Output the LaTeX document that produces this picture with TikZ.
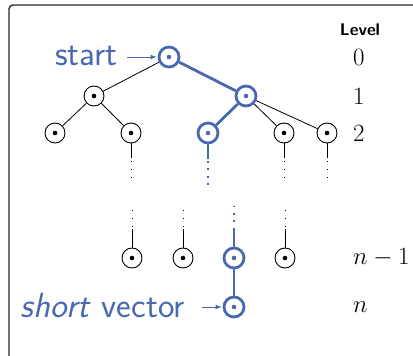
\documentclass[tikz,border=0pt]{standalone}
\usetikzlibrary{arrows.meta}
\definecolor{vblue}{RGB}{72,104,176}
\tikzset{
  vert/.style={circle,draw=black,line width=0.9pt,minimum size=20pt,inner sep=0pt,
    path picture={\fill[black] (path picture bounding box.center) circle (2.3pt);}},
  bvert/.style={circle,draw=vblue,line width=2.8pt,minimum size=20pt,inner sep=0pt,
    path picture={\fill[vblue] (path picture bounding box.center) circle (2.3pt);}},
  tedge/.style={line width=0.8pt,black},
  bedge/.style={line width=2.8pt,vblue},
  tdots/.style={line width=1pt,black,dash pattern=on 1pt off 7pt},
  bdots/.style={line width=2.6pt,vblue,dash pattern=on 2pt off 5.5pt},
  lvl/.style={anchor=west,inner sep=0pt,font=\fontsize{25}{25}\selectfont},
  bluetxt/.style={text=vblue,inner sep=0pt,font=\fontsize{35}{35}\selectfont\sffamily},
  ptr/.style={line width=0.9pt,vblue,-{Latex[length=6pt,width=5pt]}},
}
\begin{document}
\begin{tikzpicture}[x=1pt,y=-1pt]
\useasboundingbox (0,0) rectangle (413,356);
\begin{scope}
\clip (0,0) rectangle (413,356);
\draw[line width=1.4pt,black!85,rounded corners=4pt] (9,5) rectangle (470,420);
\end{scope}

% vertices
\node[bvert] (r) at (169,57) {};
\node[vert] (a1) at (94,96) {};
\node[bvert] (b1) at (246,96) {};
\node[vert] (a2) at (55,133) {};
\node[vert] (b2) at (131,133) {};
\node[bvert] (c2) at (208,133) {};
\node[vert] (d2) at (284,133) {};
\node[vert] (e2) at (327,133) {};
\node[vert] (a3) at (132,258) {};
\node[vert] (b3) at (183,258) {};
\node[bvert] (c3) at (234,258) {};
\node[vert] (d3) at (285,258) {};
\node[bvert] (n) at (234,307) {};

% tree edges
\draw[tedge] (r) -- (a1);
\draw[tedge] (a1) -- (a2);
\draw[tedge] (a1) -- (b2);
\draw[tedge] (b1) -- (d2);
\draw[tedge] (b1) -- (e2);
\draw[bedge] (r) -- (b1);
\draw[bedge] (b1) -- (c2);
\draw[bedge] (c3) -- (n);

% continuation below level 2
\foreach \nm/\xx in {b2/131,d2/284,e2/327}{
  \coordinate (\nm s) at (\xx,158);
  \coordinate (\nm e) at (\xx,184);
  \draw[tedge] (\nm) -- (\nm s);
  \draw[tdots] ([yshift=5pt]\nm s) -- (\nm e);
}
\coordinate (c2s) at (208,159);
\coordinate (c2e) at (208,190);
\draw[bedge] (c2) -- (c2s);
\draw[bdots] ([yshift=6pt]c2s) -- (c2e);

% continuation above level n-1
\foreach \nm/\xx in {a3/132,b3/183,d3/285}{
  \coordinate (\nm s) at (\xx,229);
  \coordinate (\nm e) at (\xx,206);
  \draw[tedge] (\nm) -- (\nm s);
  \draw[tdots] ([yshift=-6pt]\nm s) -- (\nm e);
}
\coordinate (c3s) at (234,230);
\coordinate (c3e) at (234,206);
\draw[bedge] (c3) -- (c3s);
\draw[bdots] ([yshift=-7pt]c3s) -- (c3e);

% labels
\node[bluetxt,anchor=base east] (st) at (118,65) {start};
\draw[ptr,shorten <=9pt,shorten >=1pt] (st.east |- r.west) -- (r.west);
\node[bluetxt,anchor=base east] (sv) at (185,317) {\textit{short} vector};
\draw[ptr,shorten <=17pt,shorten >=1pt] (sv.east |- n.west) -- (n.west);

\node[inner sep=0pt,font=\fontsize{17}{17}\selectfont\sffamily\bfseries] (lv) at (360,30) {Level};
\node[lvl] (l0) at (353,57) {$0$};
\node[lvl] (l1) at (353,96) {$1$};
\node[lvl] (l2) at (353,133) {$2$};
\node[lvl] (l3) at (353,258) {$n-1$};
\node[lvl] (l4) at (353,307) {$n$};
\end{tikzpicture}
\end{document}
